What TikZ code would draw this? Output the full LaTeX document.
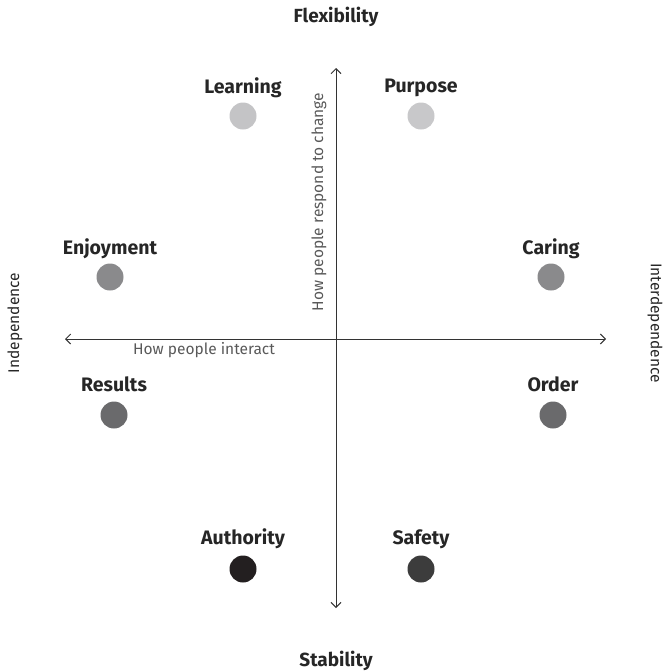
\documentclass[tikz,border=0pt]{standalone}
\usepackage{fontspec}
\setmainfont{Fira Sans}
\usetikzlibrary{arrows.meta}
\begin{document}
\begin{tikzpicture}[x=1pt,y=-1pt,
  ax/.style={draw=black!80, line width=1pt, {Straight Barb[length=5pt,width=10pt]}-{Straight Barb[length=5pt,width=10pt]}},
  dot/.style={circle, minimum size=27pt, inner sep=0pt},
  lab/.style={font=\fontsize{19.5}{22}\selectfont\bfseries, text=black!85},
  side/.style={font=\fontsize{19}{22}\selectfont\bfseries, text=black!85},
  sidev/.style={font=\fontsize{15.5}{18}\selectfont, text=black!85},
  axlab/.style={font=\fontsize{15.5}{18}\selectfont, text=black!65}]
\useasboundingbox (0,0) rectangle (665,672);
\coordinate (top) at (336,68);
\coordinate (bot) at (336,608);
\coordinate (lft) at (65,339);
\coordinate (rgt) at (606,339);
\draw[ax] (top) -- (bot);
\draw[ax] (lft) -- (rgt);
\node[side] (flex) at (336,17) {Flexibility};
\node[side] (stab) at (336,661) {Stability};
\node[sidev, rotate=90] (ind) at (15,323) {Independence};
\node[sidev, rotate=-90] (inter) at (655,323) {Interdependence};
\node[axlab, rotate=90] (resp) at (319,202) {How people respond to change};
\node[axlab] (inter2) at (204,350) {How people interact};
\node[dot, fill={rgb,255:red,196;green,196;blue,198}] (learn) at (243,116) {};
\node[lab] (learnl) at (243,88) {Learning};
\node[dot, fill={rgb,255:red,200;green,200;blue,202}] (purp) at (421,116) {};
\node[lab] (purpl) at (421,88) {Purpose};
\node[dot, fill={rgb,255:red,138;green,138;blue,140}] (enj) at (110,277) {};
\node[lab] (enjl) at (110,249) {Enjoyment};
\node[dot, fill={rgb,255:red,138;green,138;blue,140}] (car) at (551,277) {};
\node[lab] (carl) at (551,249) {Caring};
\node[dot, fill={rgb,255:red,106;green,106;blue,108}] (res) at (114,415) {};
\node[lab] (resl) at (114,384) {Results};
\node[dot, fill={rgb,255:red,106;green,106;blue,108}] (ord) at (553,415) {};
\node[lab] (ordl) at (553,384) {Order};
\node[dot, fill={rgb,255:red,35;green,31;blue,32}] (auth) at (243,569) {};
\node[lab] (authl) at (243,539) {Authority};
\node[dot, fill={rgb,255:red,60;green,60;blue,60}] (saf) at (421,569) {};
\node[lab] (safl) at (421,539) {Safety};
\end{tikzpicture}
\end{document}
